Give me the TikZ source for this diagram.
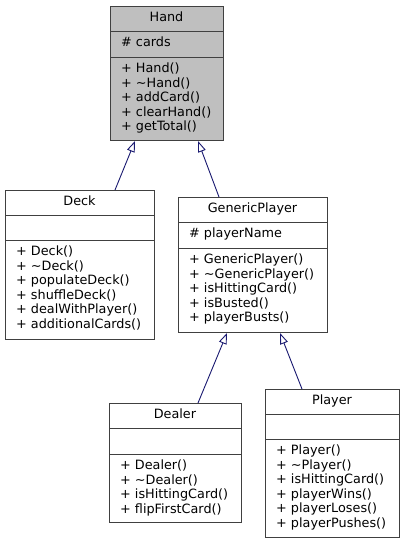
\documentclass[tikz,border=0pt]{standalone}
\usepackage{fontspec}
\setmainfont{DejaVu Sans}
\usetikzlibrary{arrows.meta}
\definecolor{edgeblue}{HTML}{191970}
\definecolor{boxline}{HTML}{404040}
\definecolor{focusfill}{HTML}{BFBFBF}
\tikzset{
  classbox/.style={draw=boxline, line width=1pt, fill=white, inner sep=0pt, anchor=north west},
  focusbox/.style={classbox, fill=focusfill},
  sep/.style={draw=boxline, line width=1pt},
  title/.style={anchor=base, inner sep=0pt, font=\fontsize{12.8}{14.5}\selectfont},
  member/.style={anchor=base west, inner sep=0pt, font=\fontsize{12.8}{14.5}\selectfont},
  inherit/.style={draw=edgeblue, line width=0.9pt, -{Triangle[open, length=11pt, width=8pt]}}
}
\begin{document}
\begin{tikzpicture}[x=1pt,y=-1pt]
\useasboundingbox (0,0) rectangle (405,544);
% Hand
\node[focusbox, minimum width=113pt, minimum height=134pt] (hand) at (110,6) {};
\draw[sep] (110,31) -- (223,31);
\draw[sep] (110,57) -- (223,57);
\node[title] (handt) at (166.5,21.7) {Hand};
\node[member] (handa) at (121,46.7) {\# cards};
\foreach \t [count=\i from 0] in {+ Hand(), + \char"223C Hand(), + addCard(), + clearHand(), + getTotal()}
  \node[member] (handm\i) at (121,72.7+14.5*\i) {\t};
% Deck
\node[classbox, minimum width=149pt, minimum height=149pt] (deck) at (5,190) {};
\draw[sep] (5,215) -- (154,215);
\draw[sep] (5,240) -- (154,240);
\node[title] (deckt) at (79.5,205.7) {Deck};
\foreach \t [count=\i from 0] in {+ Deck(), + \char"223C Deck(), + populateDeck(), + shuffleDeck(), + dealWithPlayer(), + additionalCards()}
  \node[member] (deckm\i) at (16,255.7+14.5*\i) {\t};
% GenericPlayer
\node[classbox, minimum width=149pt, minimum height=135pt] (gp) at (178,197) {};
\draw[sep] (178,222) -- (327,222);
\draw[sep] (178,248) -- (327,248);
\node[title] (gpt) at (252.5,212.7) {GenericPlayer};
\node[member] (gpa) at (189,237.7) {\# playerName};
\foreach \t [count=\i from 0] in {+ GenericPlayer(), + \char"223C GenericPlayer(), + isHittingCard(), + isBusted(), + playerBusts()}
  \node[member] (gpm\i) at (189,263.7+14.5*\i) {\t};
% Dealer
\node[classbox, minimum width=132pt, minimum height=119pt] (dealer) at (109,403) {};
\draw[sep] (109,428) -- (241,428);
\draw[sep] (109,454) -- (241,454);
\node[title] (dealert) at (175,418.7) {Dealer};
\foreach \t [count=\i from 0] in {+ Dealer(), + \char"223C Dealer(), + isHittingCard(), + flipFirstCard()}
  \node[member] (dealerm\i) at (120,469.7+14.5*\i) {\t};
% Player
\node[classbox, minimum width=134pt, minimum height=148pt] (player) at (265,389) {};
\draw[sep] (265,414) -- (399,414);
\draw[sep] (265,439) -- (399,439);
\node[title] (playert) at (332,404.7) {Player};
\foreach \t [count=\i from 0] in {+ Player(), + \char"223C Player(), + isHittingCard(), + playerWins(), + playerLoses(), + playerPushes()}
  \node[member] (playerm\i) at (276,454.7+14.5*\i) {\t};
% inheritance
\draw[inherit] ([xshift=110pt]deck.north west) -- ([xshift=25pt]hand.south west);
\draw[inherit] ([xshift=41pt]gp.north west) -- ([xshift=88pt]hand.south west);
\draw[inherit] ([xshift=89pt]dealer.north west) -- ([xshift=49pt]gp.south west);
\draw[inherit] ([xshift=37pt]player.north west) -- ([xshift=102pt]gp.south west);
\end{tikzpicture}
\end{document}
